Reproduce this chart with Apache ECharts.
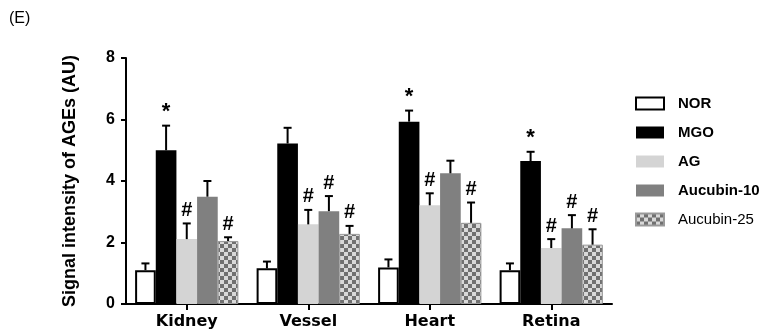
<!DOCTYPE html>
<html><head><meta charset="utf-8">
<script src="https://cdn.jsdelivr.net/npm/echarts@6/dist/echarts.min.js"></script>
<style>html,body{margin:0;padding:0;background:#fff}#c{width:768px;height:333px}</style>
</head><body><div id="c"></div>
<script>
const categories = ['Kidney', 'Vessel', 'Heart', 'Retina'];
const seriesNames = ['NOR', 'MGO', 'AG', 'Aucubin-10', 'Aucubin-25'];
const NOR = [1.10, 1.16, 1.19, 1.10];
const NOR_err = [1.32, 1.38, 1.45, 1.32];
const MGO = [5.00, 5.22, 5.93, 4.65];
const MGO_err = [5.80, 5.73, 6.29, 4.95];
const AG = [2.11, 2.59, 3.21, 1.82];
const AG_err = [2.62, 3.06, 3.60, 2.11];
const AUC10 = [3.49, 3.02, 4.25, 2.46];
const AUC10_err = [4.00, 3.51, 4.66, 2.89];
const AUC25 = [2.05, 2.28, 2.64, 1.93];
const AUC25_err = [2.17, 2.54, 3.30, 2.43];
const NOR_sig = ['', '', '', ''];
const MGO_sig = ['*', '', '*', '*'];
const AG_sig = ['#', '#', '#', '#'];
const AUC10_sig = ['', '#', '', '#'];
const AUC25_sig = ['#', '#', '#', '#'];
const yTicks = [0, 2, 4, 6, 8];

const values = [NOR, MGO, AG, AUC10, AUC25];
const errs = [NOR_err, MGO_err, AG_err, AUC10_err, AUC25_err];
const sigs = [NOR_sig, MGO_sig, AG_sig, AUC10_sig, AUC25_sig];

// checker pattern
const pc = document.createElement('canvas');
pc.width = 8; pc.height = 8;
const pctx = pc.getContext('2d');
pctx.fillStyle = '#d8d8d8'; pctx.fillRect(0, 0, 8, 8);
pctx.fillStyle = '#707070'; pctx.fillRect(0, 0, 4, 4); pctx.fillRect(4, 4, 4, 4);

const styles = [
  {color: '#ffffff', borderColor: '#000', borderWidth: 2},
  {color: '#000000'},
  {color: '#d4d4d4'},
  {color: '#808080'},
  {color: {image: pc, repeat: 'repeat'}, borderColor: '#999', borderWidth: 1}
];
const CAT_GAP = 0.15;
const N = 5;

const series = [];
seriesNames.forEach((name, i) => {
  series.push({
    name: name, type: 'bar', data: values[i],
    barGap: '0%', barCategoryGap: (CAT_GAP * 100) + '%',
    itemStyle: styles[i], emphasis: {disabled: true}, animation: false, z: 2
  });
});
seriesNames.forEach((name, i) => {
  series.push({
    type: 'custom', animation: false, z: 5,
    data: categories.map((c, k) => [k, values[i][k], errs[i][k], sigs[i][k]]),
    renderItem: function (params, api) {
      const k = api.value(0);
      const band = api.size([1, 0])[0];
      const bw = band * (1 - CAT_GAP) / N;
      const center = api.coord([k, 0])[0];
      const x = center + (i - (N - 1) / 2) * bw;
      const top = api.coord([k, api.value(1)])[1];
      const et = api.coord([k, api.value(2)])[1];
      const cap = 4;
      const children = [
        {type: 'line', shape: {x1: x, y1: top, x2: x, y2: et}, style: {stroke: '#000', lineWidth: 2}},
        {type: 'line', shape: {x1: x - cap, y1: et, x2: x + cap, y2: et}, style: {stroke: '#000', lineWidth: 2}}
      ];
      const s = sigs[i][k];
      if (s) {
        children.push({type: 'text', style: {
          text: s, x: x, y: et - 3, align: 'center', verticalAlign: 'bottom',
          font: 'bold ' + (s === '*' ? 22 : 20) + 'px "Liberation Sans", Arial, sans-serif', fill: '#000'
        }});
      }
      return {type: 'group', children: children};
    }
  });
});

const chart = echarts.init(document.getElementById('c'), null, {renderer: 'canvas'});
chart.setOption({
  animation: false,
  backgroundColor: '#fff',
  grid: {left: 126, right: 156, top: 58, bottom: 29, containLabel: false},
  graphic: [{type: 'text', left: 9, top: 11, style: {text: '(E)', font: '16px "Liberation Sans", Arial, sans-serif', fill: '#000'}}],
  legend: {
    orient: 'vertical', left: 630, top: 91,
    itemWidth: 28, itemHeight: 12, itemGap: 14,
    icon: 'rect',
    selectedMode: false,
    data: seriesNames.map((n, i) => ({
      name: n,
      textStyle: {fontWeight: i === 4 ? 'normal' : 'bold'}
    })),
    textStyle: {fontSize: 15, color: '#000', fontFamily: '"Liberation Sans", Arial, sans-serif', padding: [0, 0, 0, 9], lineHeight: 13}
  },
  xAxis: {
    type: 'category', data: categories,
    axisLine: {lineStyle: {color: '#000', width: 2}},
    axisTick: {show: true, alignWithLabel: true, length: 6, lineStyle: {color: '#000', width: 2}},
    axisLabel: {color: '#000', fontSize: 16, fontWeight: 'bold', fontFamily: '"DejaVu Sans", sans-serif', margin: 10}
  },
  yAxis: {
    type: 'value', min: yTicks[0], max: yTicks[yTicks.length - 1], interval: 2,
    name: 'Signal intensity of AGEs (AU)', nameLocation: 'middle', nameGap: 47,
    nameTextStyle: {color: '#000', fontSize: 18, fontWeight: 'bold', fontFamily: '"Liberation Sans", Arial, sans-serif'},
    axisLine: {show: true, lineStyle: {color: '#000', width: 2}},
    axisTick: {show: true, length: 5, lineStyle: {color: '#000', width: 2}},
    splitLine: {show: false},
    axisLabel: {color: '#000', fontSize: 16, fontWeight: 'bold', fontFamily: '"Liberation Sans", Arial, sans-serif', margin: 11}
  },
  series: series
});
</script>
</body></html>
